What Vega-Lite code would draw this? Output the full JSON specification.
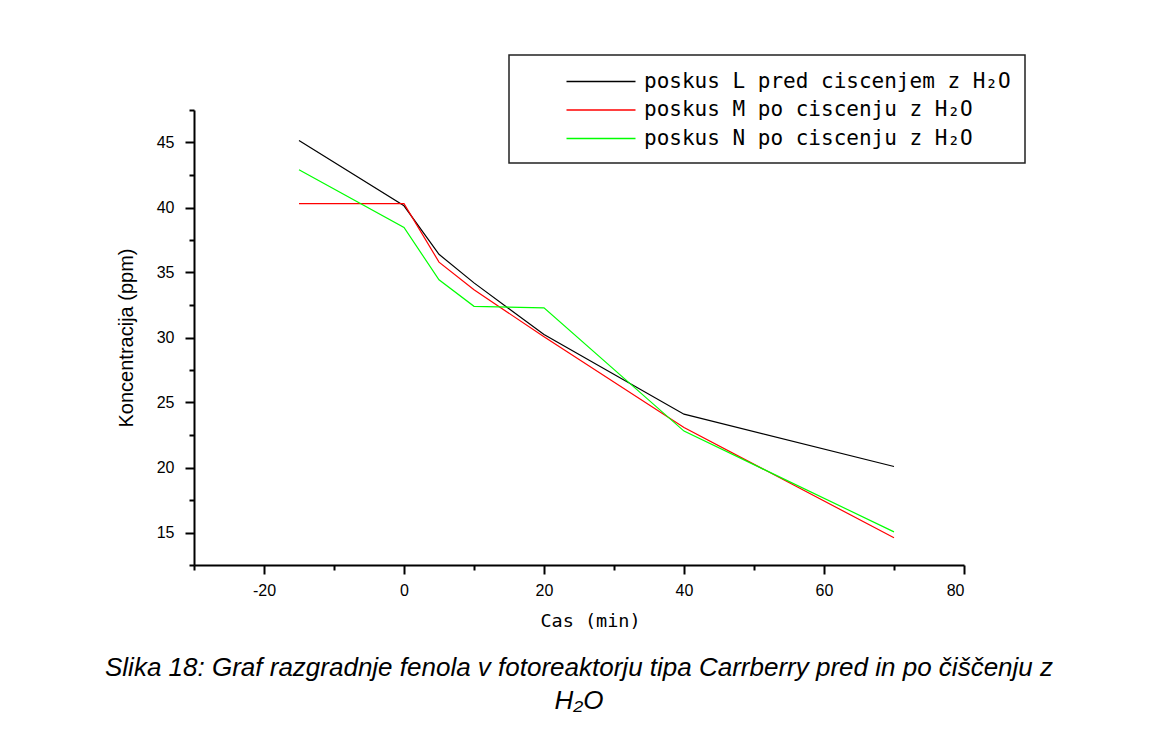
{
  "$schema": "https://vega.github.io/schema/vega-lite/v6.json",
  "width": 770,
  "height": 455,
  "autosize": {"type": "none"},
  "padding": {"left": 194, "top": 110, "right": 196, "bottom": 182},
  "background": "white",
  "title": {
    "text": ["Slika 18: Graf razgradnje fenola v fotoreaktorju tipa Carrberry pred in po čiščenju z", "H₂O"],
    "orient": "bottom",
    "anchor": "middle",
    "frame": "group",
    "font": "Liberation Sans",
    "fontSize": 26,
    "fontStyle": "italic",
    "fontWeight": "normal",
    "color": "black",
    "lineHeight": 33,
    "offset": 25
  },
  "data": {
    "values": [
      {"t": -15, "c": 45.15, "s": "poskus L pred ciscenjem z H₂O"},
      {"t": 0, "c": 40.13, "s": "poskus L pred ciscenjem z H₂O"},
      {"t": 5, "c": 36.4, "s": "poskus L pred ciscenjem z H₂O"},
      {"t": 10, "c": 34.2, "s": "poskus L pred ciscenjem z H₂O"},
      {"t": 20, "c": 30.23, "s": "poskus L pred ciscenjem z H₂O"},
      {"t": 40, "c": 24.1, "s": "poskus L pred ciscenjem z H₂O"},
      {"t": 70, "c": 20.08, "s": "poskus L pred ciscenjem z H₂O"},
      {"t": -15, "c": 40.3, "s": "poskus M po ciscenju z H₂O"},
      {"t": 0, "c": 40.3, "s": "poskus M po ciscenju z H₂O"},
      {"t": 5, "c": 35.8, "s": "poskus M po ciscenju z H₂O"},
      {"t": 10, "c": 33.67, "s": "poskus M po ciscenju z H₂O"},
      {"t": 20, "c": 30.05, "s": "poskus M po ciscenju z H₂O"},
      {"t": 40, "c": 23.08, "s": "poskus M po ciscenju z H₂O"},
      {"t": 70, "c": 14.6, "s": "poskus M po ciscenju z H₂O"},
      {"t": -15, "c": 42.9, "s": "poskus N po ciscenju z H₂O"},
      {"t": 0, "c": 38.46, "s": "poskus N po ciscenju z H₂O"},
      {"t": 5, "c": 34.44, "s": "poskus N po ciscenju z H₂O"},
      {"t": 10, "c": 32.4, "s": "poskus N po ciscenju z H₂O"},
      {"t": 20, "c": 32.28, "s": "poskus N po ciscenju z H₂O"},
      {"t": 40, "c": 22.8, "s": "poskus N po ciscenju z H₂O"},
      {"t": 70, "c": 15.05, "s": "poskus N po ciscenju z H₂O"}
    ]
  },
  "mark": {"type": "line", "strokeWidth": 1.2, "interpolate": "linear"},
  "encoding": {
    "x": {
      "field": "t",
      "type": "quantitative",
      "scale": {"domain": [-30, 80], "nice": false, "zero": false},
      "axis": {
        "title": "Cas (min)",
        "titleFont": "DejaVu Sans Mono",
        "titleFontSize": 18.5,
        "titleX": 396,
        "values": [-30, -20, -10, 0, 10, 20, 30, 40, 50, 60, 70, 80],
        "labelExpr": "datum.value % 20 === 0 ? '' + datum.value : ''",
        "tickSize": {"condition": {"test": "datum.value % 20 === 0", "value": 9}, "value": 5},
        "labelPadding": 8,
        "titlePadding": 13
      }
    },
    "y": {
      "field": "c",
      "type": "quantitative",
      "scale": {"domain": [12.5, 47.5], "nice": false, "zero": false},
      "axis": {
        "title": "Koncentracija (ppm)",
        "titleFont": "Liberation Sans",
        "titleFontSize": 20,
        "values": [12.5, 15, 17.5, 20, 22.5, 25, 27.5, 30, 32.5, 35, 37.5, 40, 42.5, 45, 47.5],
        "labelExpr": "datum.value % 5 === 0 ? '' + datum.value : ''",
        "tickSize": {"condition": {"test": "datum.value % 5 === 0", "value": 9}, "value": 5},
        "labelPadding": 11,
        "titlePadding": 20
      }
    },
    "color": {
      "field": "s",
      "type": "nominal",
      "scale": {
        "domain": ["poskus L pred ciscenjem z H₂O", "poskus M po ciscenju z H₂O", "poskus N po ciscenju z H₂O"],
        "range": ["#000000", "#ff0000", "#00ff00"]
      },
      "legend": {"title": null}
    }
  },
  "config": {
    "view": {"stroke": null},
    "axis": {
      "grid": false,
      "domainColor": "black",
      "domainWidth": 2,
      "tickColor": "black",
      "tickWidth": 2,
      "labelFont": "Liberation Sans",
      "labelFontSize": 16,
      "labelColor": "black",
      "titleFontWeight": "normal",
      "titleColor": "black"
    },
    "legend": {
      "orient": "none",
      "legendX": 315,
      "legendY": -55,
      "strokeColor": "#222222",
      "strokeWidth": 1.5,
      "fillColor": "white",
      "padding": 14,
      "symbolOffset": 65.5,
      "symbolType": "M-3,0H3",
      "symbolSize": 529,
      "symbolStrokeWidth": 1.3,
      "labelFont": "DejaVu Sans Mono",
      "labelFontSize": 21,
      "labelColor": "black",
      "labelOffset": 30.5,
      "rowPadding": 5.5,
      "labelLimit": 600
    }
  }
}
